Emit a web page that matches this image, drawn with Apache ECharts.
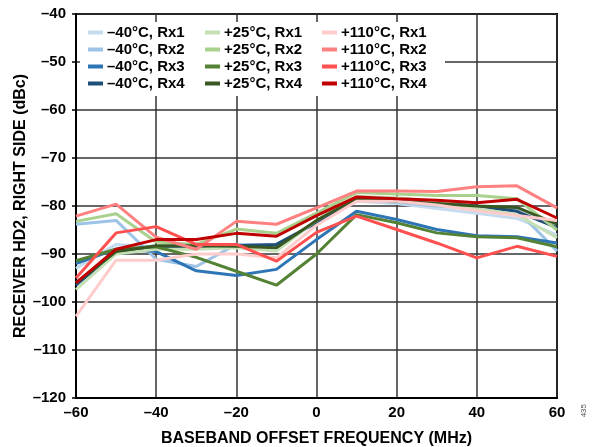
<!DOCTYPE html>
<html>
<head>
<meta charset="utf-8">
<script src="https://cdn.jsdelivr.net/npm/echarts@6/dist/echarts.min.js"></script>
<style>
  html, body { margin: 0; padding: 0; background: #fff; }
  #chart { width: 595px; height: 447px; }
</style>
</head>
<body>
<div id="chart"></div>
<script>
// 横轴：基带偏移频率 (MHz)
var freq = [-60, -50, -40, -30, -20, -10, 0, 10, 20, 30, 40, 50, 60];

// 各曲线数据 (dBc)
var m40Rx1 = [-93, -88, -88.5, -88.8, -88, -88, -83.5, -79, -79.5, -80.5, -81.5, -82.6, -86];
var m40Rx2 = [-83.8, -83, -91.1, -92.6, -88, -88.2, -83.5, -78.8, -79.2, -80, -80.5, -80.8, -89.4];
var m40Rx3 = [-92, -89, -89.5, -93.5, -94.5, -93.2, -87, -81.1, -82.8, -84.9, -86.2, -86.4, -87.7];
var m40Rx4 = [-96.5, -89.5, -88.8, -88.5, -88.3, -88, -83.5, -78.5, -79, -79.3, -80, -81.1, -84.5];

var p25Rx1 = [-97.4, -90, -89, -89, -88.7, -89.4, -83, -78, -78.3, -79, -80.5, -81.8, -86.6];
var p25Rx2 = [-83.2, -81.6, -87.5, -88, -84.8, -85.7, -81.5, -77.2, -77.5, -77.8, -77.8, -78.5, -85];
var p25Rx3 = [-91.4, -89, -88.5, -90.7, -93.6, -96.5, -90, -81.8, -83.5, -85.6, -86.4, -86.6, -88.5];
var p25Rx4 = [-96, -89.5, -88.3, -88.3, -88.4, -88.7, -83, -78.5, -79, -79.5, -80, -80.3, -83.8];

var p110Rx1 = [-103, -91.3, -91.3, -90, -90, -90.8, -84, -79, -79, -79.8, -81, -82, -83];
var p110Rx2 = [-82.1, -79.6, -86.5, -89, -83.2, -83.8, -80.4, -76.9, -76.9, -77, -76, -75.8, -80.4];
var p110Rx3 = [-95, -85.6, -84.3, -88, -88, -91.5, -85.5, -82.1, -84.9, -87.7, -90.8, -88.4, -90.5];
var p110Rx4 = [-96, -89, -87, -87, -85.7, -86.3, -82, -78.1, -78.5, -78.8, -79.3, -78.6, -82.5];

var names40 = ['–40°C, Rx1', '–40°C, Rx2', '–40°C, Rx3', '–40°C, Rx4'];
var names25 = ['+25°C, Rx1', '+25°C, Rx2', '+25°C, Rx3', '+25°C, Rx4'];
var names110 = ['+110°C, Rx1', '+110°C, Rx2', '+110°C, Rx3', '+110°C, Rx4'];

var colors40 = ['#c5dcf0', '#9dc3e6', '#2e75b6', '#1f4e79'];
var colors25 = ['#c5e0b4', '#a9d18e', '#548235', '#385723'];
var colors110 = ['#ffcccc', '#ff8080', '#ff5050', '#c00000'];

var chart = echarts.init(document.getElementById('chart'));

function dash(v) {
    return String(v).replace('-', '–');
}

function makeSeries(names, colors, arrays) {
    return names.map(function (n, i) {
        return {
            name: n,
            type: 'line',
            showSymbol: false,
            color: colors[i],
            lineStyle: { width: 3, color: colors[i] },
            data: freq.map(function (f, j) { return [f, arrays[i][j]]; })
        };
    });
}

var series = [].concat(
    makeSeries(names40, colors40, [m40Rx1, m40Rx2, m40Rx3, m40Rx4]),
    makeSeries(names25, colors25, [p25Rx1, p25Rx2, p25Rx3, p25Rx4]),
    makeSeries(names110, colors110, [p110Rx1, p110Rx2, p110Rx3, p110Rx4])
);

var font = 'Liberation Sans, Arial, sans-serif';

function legendCol(names, left) {
    return {
        data: names,
        orient: 'vertical',
        left: left,
        top: 25,
        padding: 0,
        itemGap: 2,
        itemWidth: 15,
        itemHeight: 4,
        icon: 'rect',
        selectedMode: false,
        textStyle: { fontFamily: font, fontWeight: 'bold', fontSize: 15, lineHeight: 15, color: '#000', padding: [0, 0, 0, -1] }
    };
}

var option = {
    animation: false,
    backgroundColor: '#fff',
    grid: {
        left: 76, right: 38, top: 14, bottom: 49,
        outerBoundsMode: 'none',
        show: true, borderColor: '#000', borderWidth: 2
    },
    legend: [
        legendCol(names40, 88),
        legendCol(names25, 205),
        legendCol(names110, 322)
    ],
    graphic: [
        // 图例背景，盖住网格线
        { type: 'rect', left: 80, top: 22, shape: { width: 365, height: 74 }, style: { fill: '#fff' }, z: 1 },
        { type: 'text', left: 580, top: 404, rotation: Math.PI / 2,
          style: { text: '435', fontFamily: font, fontSize: 8, fill: '#555' } }
    ],
    xAxis: {
        type: 'value',
        min: -60, max: 60, interval: 20,
        name: 'BASEBAND OFFSET FREQUENCY (MHz)',
        nameLocation: 'middle',
        nameGap: 33,
        nameMoveOverlap: false,
        nameTextStyle: { fontFamily: font, fontWeight: 'bold', fontSize: 16, color: '#000' },
        axisLine: { onZero: false, lineStyle: { color: '#000', width: 2 } },
        axisTick: { show: false },
        axisLabel: { fontFamily: font, fontWeight: 'bold', fontSize: 15, color: '#000', margin: 7, formatter: dash },
        splitLine: { show: true, lineStyle: { color: '#333', width: 1.5 } }
    },
    yAxis: {
        type: 'value',
        min: -120, max: -40, interval: 10,
        name: 'RECEIVER HD2, RIGHT SIDE (dBc)',
        nameLocation: 'middle',
        nameGap: 47,
        nameMoveOverlap: false,
        nameTextStyle: { fontFamily: font, fontWeight: 'bold', fontSize: 16, color: '#000' },
        axisLine: { onZero: false, lineStyle: { color: '#000', width: 2 } },
        axisTick: { show: true, inside: false, length: 4, lineStyle: { color: '#000', width: 1.5 } },
        axisLabel: { fontFamily: font, fontWeight: 'bold', fontSize: 15, color: '#000', margin: 10, formatter: dash },
        splitLine: { show: true, lineStyle: { color: '#333', width: 1.5 } }
    },
    series: series
};

chart.setOption(option);

window.onresize = function () {
    chart.resize();
};
</script>
</body>
</html>
